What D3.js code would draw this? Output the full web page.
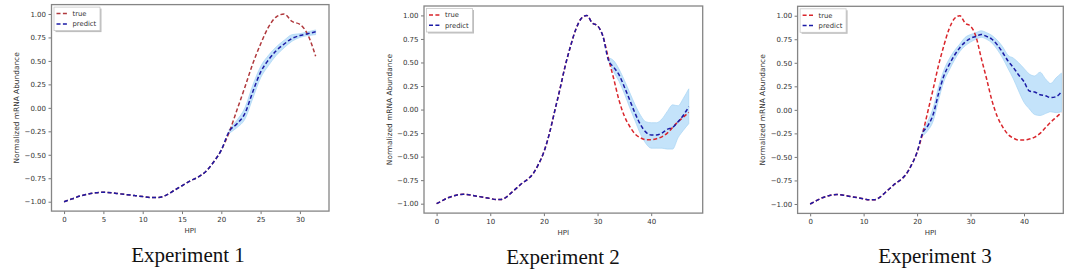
<!DOCTYPE html>
<html>
<head>
<meta charset="utf-8">
<script src="https://cdn.jsdelivr.net/npm/d3@7"></script>
<style>
  body { margin: 0; background: #fff; }
</style>
</head>
<body>
<div id="chart"></div>
<script>
// hours post infection (x axis)
const hours = d3.range(0, 48);

// measured ("true") normalized abundance, shared by all three experiments
const trueValues = [
  -1.00, -0.97, -0.94, -0.92, -0.905, -0.90, -0.905, -0.915, -0.925, -0.935,
  -0.945, -0.955, -0.955, -0.93, -0.88, -0.83, -0.78, -0.74, -0.68, -0.58,
  -0.45, -0.26, -0.02, 0.22, 0.47, 0.68, 0.86, 0.97, 1.00, 0.92,
  0.89, 0.78, 0.55, 0.33, 0.10, -0.07, -0.18, -0.26, -0.30, -0.32,
  -0.32, -0.31, -0.29, -0.25, -0.19, -0.13, -0.08, -0.03
];

// predictions (from the start hour on) with their band
const predict1 = [-0.25, -0.17, -0.06, 0.17, 0.38, 0.51, 0.61, 0.68, 0.74, 0.77, 0.79, 0.81];
const lower1   = [-0.27, -0.21, -0.12, 0.10, 0.32, 0.45, 0.56, 0.64, 0.71, 0.75, 0.77, 0.78];
const upper1   = [-0.23, -0.13, 0.00, 0.24, 0.44, 0.56, 0.65, 0.72, 0.78, 0.79, 0.81, 0.83];

const predict2 = [0.53, 0.45, 0.37, 0.24, 0.10, -0.04, -0.16, -0.24, -0.27, -0.27, -0.25, -0.21, -0.19, -0.13, -0.06, 0.03];
const lower2   = [0.52, 0.40, 0.30, 0.17, 0.02, -0.12, -0.26, -0.36, -0.41, -0.41, -0.41, -0.42, -0.42, -0.30, -0.22, -0.15];
const upper2   = [0.55, 0.52, 0.43, 0.31, 0.18, 0.05, -0.06, -0.13, -0.14, -0.14, -0.10, -0.02, 0.05, 0.04, 0.12, 0.22];

const predict3 = [-0.25, -0.17, -0.05, 0.17, 0.36, 0.48, 0.58, 0.66, 0.72, 0.76, 0.78, 0.80, 0.78, 0.75,
  0.69, 0.61, 0.52, 0.45, 0.37, 0.30, 0.20, 0.19, 0.16, 0.15, 0.13, 0.14, 0.19];
const lower3   = [-0.28, -0.22, -0.12, 0.10, 0.30, 0.42, 0.53, 0.62, 0.68, 0.72, 0.75, 0.77, 0.75, 0.71,
  0.64, 0.55, 0.44, 0.33, 0.20, 0.08, 0.01, -0.05, -0.06, -0.04, -0.02, -0.03, -0.02];
const upper3   = [-0.21, -0.12, 0.02, 0.24, 0.42, 0.54, 0.63, 0.70, 0.77, 0.80, 0.82, 0.84, 0.82, 0.79,
  0.74, 0.67, 0.58, 0.55, 0.50, 0.44, 0.38, 0.36, 0.40, 0.33, 0.28, 0.34, 0.39];

const yTicks = [-1.00, -0.75, -0.50, -0.25, 0.00, 0.25, 0.50, 0.75, 1.00];
const xTicks1 = [0, 5, 10, 15, 20, 25, 30];
const xTicks23 = [0, 10, 20, 30, 40];
const legendLabels = ["true", "predict"];

const experiments = [
  { title: "Experiment 1", start: 21, end: 32, pred: predict1, lo: lower1, hi: upper1,
    xTicks: xTicks1, xDomain: [-1.6, 33.7], trueColor: "#b0393d",
    box: { left: 51.5, right: 329, top: 4.6, bottom: 211.1 }, titleX: 188, titleY: 262 },
  { title: "Experiment 2", start: 32, end: 47, pred: predict2, lo: lower2, hi: upper2,
    xTicks: xTicks23, xDomain: [-2.35, 49.6], trueColor: "#d9252b",
    box: { left: 424, right: 702.7, top: 6, bottom: 213.1 }, titleX: 563, titleY: 264 },
  { title: "Experiment 3", start: 21, end: 47, pred: predict3, lo: lower3, hi: upper3,
    xTicks: xTicks23, xDomain: [-2.35, 47.35], trueColor: "#d9252b",
    box: { left: 797.6, right: 1063.3, top: 6.3, bottom: 213.4 }, titleX: 935, titleY: 263 }
];

const predictColor = "#1b1ba6";
const width = 1084, height = 275;

const svg = d3.select("#chart").append("svg")
    .attr("width", width)
    .attr("height", height)
    .attr("font-family", "'DejaVu Sans', sans-serif");

experiments.forEach(exp => {
  const b = exp.box;
  const x = d3.scaleLinear().domain(exp.xDomain).range([b.left, b.right]);
  const y = d3.scaleLinear().domain([-1.1, 1.1]).range([b.bottom, b.top]);

  const g = svg.append("g");

  // series
  const trueSeries = hours.filter(h => h <= exp.end).map(h => ({ h, v: trueValues[h] }));
  const predSeries = hours.filter(h => h < exp.start).map(h => ({ h, v: trueValues[h] }))
      .concat(exp.pred.map((v, i) => ({ h: exp.start + i, v })));
  const band = exp.pred.map((v, i) => ({ h: exp.start + i, lo: exp.lo[i], hi: exp.hi[i] }));

  const curve = d3.curveMonotoneX;

  g.append("path")
      .datum(band)
      .attr("fill", "#c4e3fa")
      .attr("stroke", "#a8d4f4")
      .attr("stroke-width", 0.7)
      .attr("d", d3.area().curve(curve)
          .x(d => x(d.h)).y0(d => y(d.lo)).y1(d => y(d.hi)));

  const line = d3.line().curve(curve).x(d => x(d.h)).y(d => y(d.v));

  g.append("path")
      .datum(trueSeries)
      .attr("fill", "none")
      .attr("stroke", exp.trueColor)
      .attr("stroke-width", 1.5)
      .attr("stroke-dasharray", "4,2.4")
      .attr("d", line);

  g.append("path")
      .datum(predSeries)
      .attr("fill", "none")
      .attr("stroke", predictColor)
      .attr("stroke-width", 1.5)
      .attr("stroke-dasharray", "4,2.4")
      .attr("d", line);

  // axes
  const xAxis = g.append("g")
      .attr("transform", `translate(0,${b.bottom})`)
      .call(d3.axisBottom(x).tickValues(exp.xTicks).tickFormat(d3.format("d")).tickSize(3).tickPadding(3));
  const yAxis = g.append("g")
      .attr("transform", `translate(${b.left},0)`)
      .call(d3.axisLeft(y).tickValues(yTicks).tickFormat(d3.format(".2f")).tickSize(3).tickPadding(2.5));

  [xAxis, yAxis].forEach(a => {
    a.select(".domain").remove();
    a.selectAll("line").attr("stroke", "#555").attr("stroke-width", 0.8);
    a.selectAll("text").attr("font-size", 7).attr("fill", "#333")
        .attr("font-family", "'DejaVu Sans', sans-serif");
  });

  // frame
  g.append("rect")
      .attr("x", b.left).attr("y", b.top)
      .attr("width", b.right - b.left).attr("height", b.bottom - b.top)
      .attr("fill", "none")
      .attr("stroke", "#858585")
      .attr("stroke-width", 1.3);

  // axis labels
  g.append("text")
      .attr("x", (b.left + b.right) / 2)
      .attr("y", b.bottom + 21.5)
      .attr("text-anchor", "middle")
      .attr("font-size", 7)
      .attr("fill", "#333")
      .text("HPI");

  g.append("text")
      .attr("transform", `translate(${b.left - 35},${(b.top + b.bottom) / 2}) rotate(-90)`)
      .attr("text-anchor", "middle")
      .attr("dy", "0.35em")
      .attr("font-size", 7.4)
      .attr("fill", "#333")
      .text("Normalized mRNA Abundance");

  // legend
  const lx = b.left + 2.5, ly = b.top + 2.5;
  const legend = g.append("g").attr("transform", `translate(${lx},${ly})`);
  legend.append("rect")
      .attr("x", 1.5).attr("y", 1.5).attr("width", 46).attr("height", 23.5)
      .attr("fill", "#888").attr("opacity", 0.55);
  legend.append("rect")
      .attr("width", 46).attr("height", 23.5)
      .attr("fill", "#fff").attr("stroke", "#c8c8c8").attr("stroke-width", 0.8);
  legendLabels.forEach((lab, i) => {
    const yy = 6.5 + i * 10.3;
    legend.append("line")
        .attr("x1", 2.5).attr("x2", 15).attr("y1", yy).attr("y2", yy)
        .attr("stroke", i === 0 ? exp.trueColor : predictColor)
        .attr("stroke-width", 1.5)
        .attr("stroke-dasharray", "4,2.4");
    legend.append("text")
        .attr("x", 18.5).attr("y", yy).attr("dy", "0.35em")
        .attr("font-size", 6.8).attr("fill", "#333")
        .text(lab);
  });

  // caption
  svg.append("text")
      .attr("x", exp.titleX)
      .attr("y", exp.titleY)
      .attr("text-anchor", "middle")
      .attr("font-family", "'Liberation Serif', 'Times New Roman', serif")
      .attr("font-size", 21)
      .attr("fill", "#111")
      .text(exp.title);
});
</script>
</body>
</html>
